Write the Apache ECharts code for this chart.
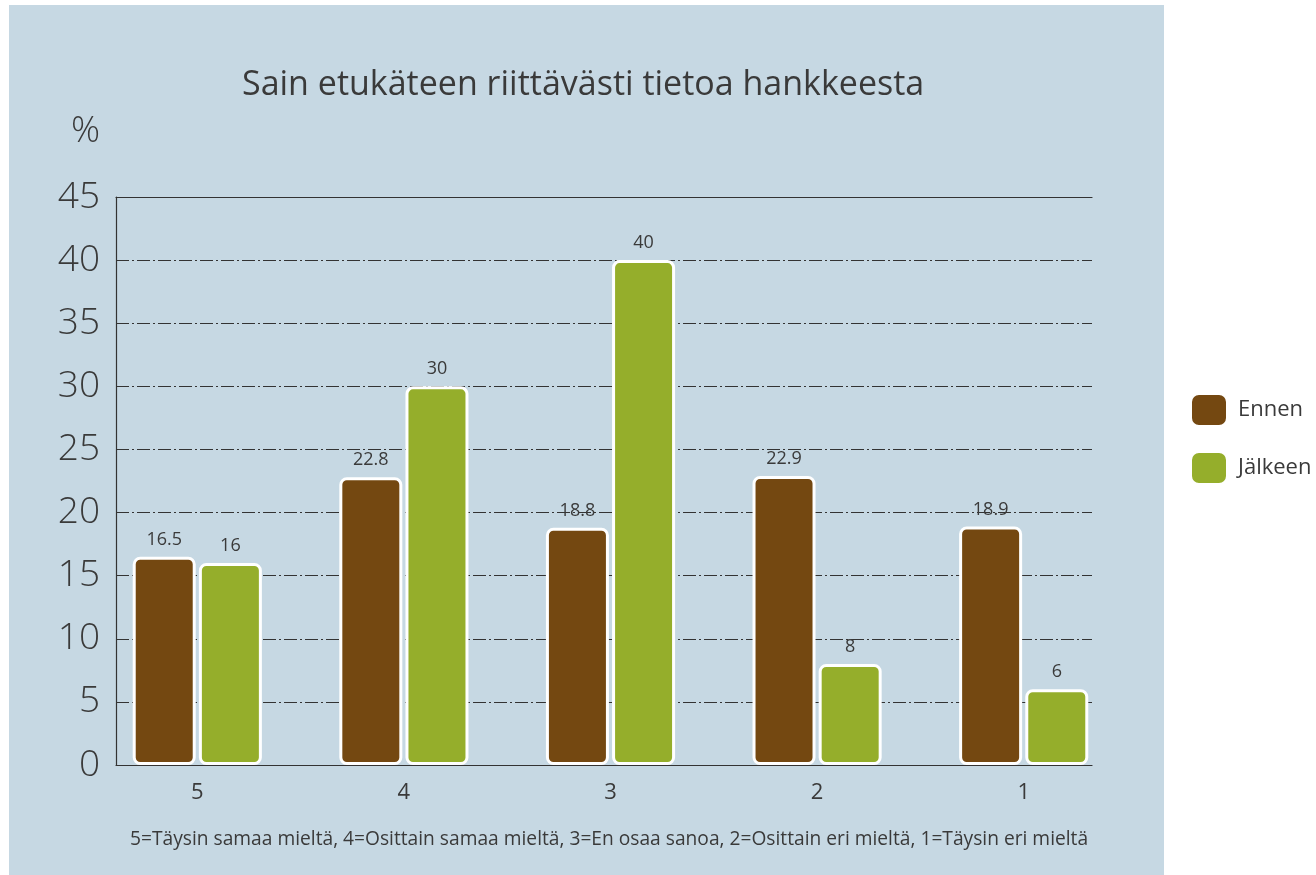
<!DOCTYPE html>
<html>
<head>
<meta charset="utf-8">
<script src="https://cdn.jsdelivr.net/npm/echarts@6/dist/echarts.min.js"></script>
<style>
	html, body { margin: 0; padding: 0; background: #fff; }
	#main { width: 1316px; height: 875px; }
</style>
</head>
<body>
<div id="main"></div>
<script>
var categories = ['5', '4', '3', '2', '1']; //vastausvaihtoehdot
var ennen = [16.5, 22.8, 18.8, 22.9, 18.9]; //Ennen
var jalkeen = [16, 30, 40, 8, 6]; //Jälkeen
var yTicks = [0, 5, 10, 15, 20, 25, 30, 35, 40, 45];

var textColor = '#3a3a3a';
var font = 'Open Sans';

var myChart = echarts.init(document.getElementById('main'));
var option = {
	backgroundColor: '#fff',
	animation: false,
	textStyle: { fontFamily: font },
	color: ['#744811', '#95ae2b'],
	title: {
		text: 'Sain etukäteen riittävästi tietoa hankkeesta',
		left: 237,
		top: 63,
		textStyle: { color: textColor, fontSize: 34, fontWeight: 'normal', fontFamily: font }
	},
	legend: {
		data: ['Ennen', 'Jälkeen'],
		orient: 'vertical',
		left: 1190,
		top: 393,
		padding: 0,
		icon: 'roundRect',
		itemWidth: 36,
		itemHeight: 32,
		itemGap: 24,
		textStyle: { color: textColor, fontSize: 22, fontFamily: font, padding: [0, 0, 0, 6] }
	},
	graphic: [
		{ //tausta
			type: 'rect', z: -10, silent: true,
			shape: { x: 9, y: 5, width: 1155, height: 875 },
			style: { fill: '#c6d8e3' }
		},
		{
			type: 'text', left: 71, top: 114,
			style: { text: '%', fontSize: 36, fontWeight: 300, fill: textColor, fontFamily: font }
		},
		{
			type: 'text', left: 130, top: 830,
			style: {
				text: '5=Täysin samaa mieltä, 4=Osittain samaa mieltä, 3=En osaa sanoa, 2=Osittain eri mieltä, 1=Täysin eri mieltä',
				fontSize: 19.2, fill: textColor, fontFamily: font
			}
		}
	],
	grid: [
		{ left: 116, top: 197, width: 976, height: 568 }, //kehys
		{ left: 94, top: 197, width: 1033, height: 568 } //pylväät
	],
	xAxis: [
		{
			gridIndex: 0, type: 'category', data: categories, position: 'bottom',
			axisLine: { lineStyle: { color: '#333', width: 1.2 } },
			axisTick: { show: false }, axisLabel: { show: false }, splitLine: { show: false }
		},
		{
			gridIndex: 0, type: 'category', data: categories, position: 'top',
			axisLine: { lineStyle: { color: '#333', width: 1.2 } },
			axisTick: { show: false }, axisLabel: { show: false }, splitLine: { show: false }
		},
		{
			gridIndex: 1, type: 'category', data: categories,
			axisLine: { show: false }, axisTick: { show: false },
			axisLabel: { color: textColor, fontSize: 22, margin: 17, fontFamily: font }
		}
	],
	yAxis: [
		{
			gridIndex: 0, type: 'value', min: 0, max: 45, interval: 5,
			axisLine: { show: true, lineStyle: { color: '#333', width: 1.2 } },
			axisTick: { show: false },
			axisLabel: { color: textColor, fontSize: 37, fontWeight: 300, margin: 16, fontFamily: font },
			splitLine: { lineStyle: { color: '#333', width: 1, type: [13, 3, 2, 3] } }
		},
		{
			gridIndex: 1, type: 'value', min: 0, max: 45, interval: 5, show: false,
			splitLine: { show: false }
		}
	],
	series: [
		{
			name: 'Ennen', type: 'bar', xAxisIndex: 2, yAxisIndex: 1,
			barWidth: 63, barGap: '5%',
			itemStyle: { borderColor: '#fff', borderWidth: 3, borderRadius: 6 },
			label: { show: true, position: 'top', distance: 8, color: textColor, fontSize: 18, fontFamily: font },
			data: ennen
		},
		{
			name: 'Jälkeen', type: 'bar', xAxisIndex: 2, yAxisIndex: 1,
			barWidth: 63,
			itemStyle: { borderColor: '#fff', borderWidth: 3, borderRadius: 6 },
			label: { show: true, position: 'top', distance: 8, color: textColor, fontSize: 18, fontFamily: font },
			data: jalkeen
		}
	]
};
myChart.setOption(option);
</script>
</body>
</html>
